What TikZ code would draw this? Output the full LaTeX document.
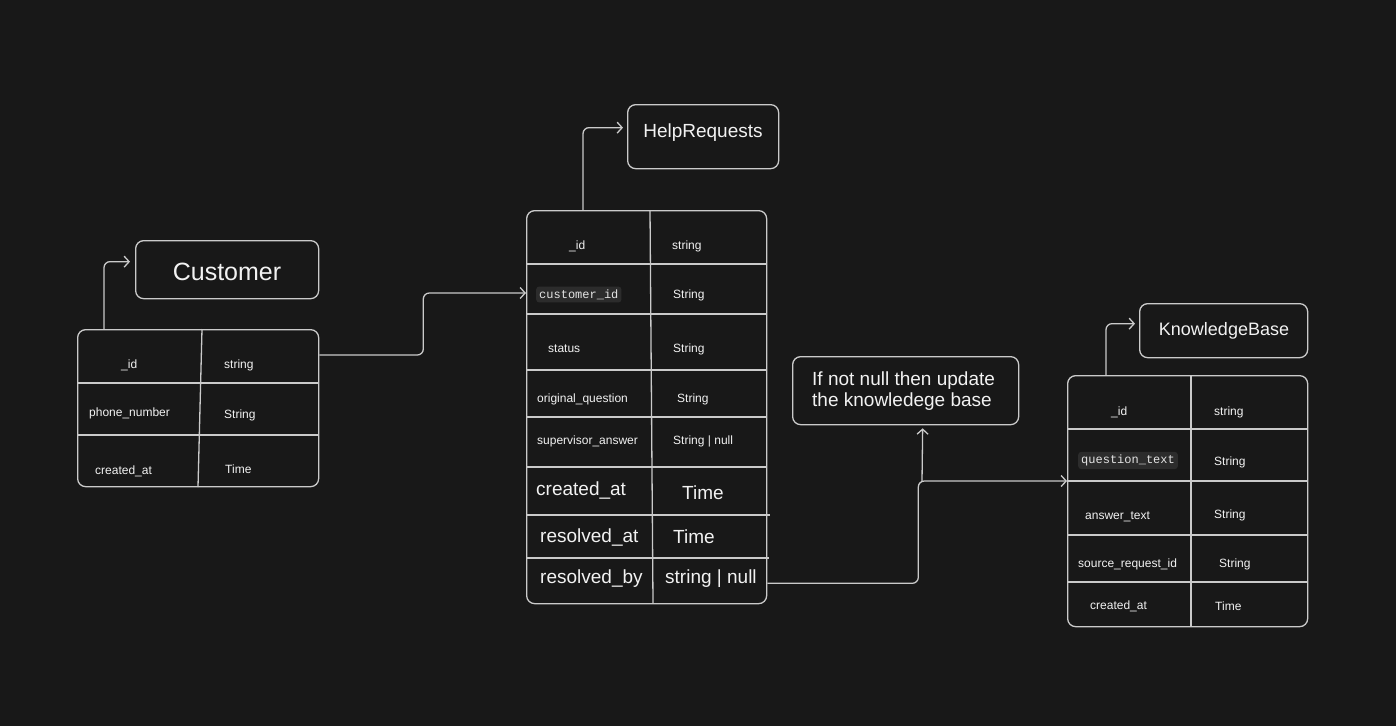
\documentclass[tikz,border=0pt]{standalone}
\usepackage{fontspec}
\setmainfont{Liberation Sans}
\setmonofont{Liberation Mono}
\usetikzlibrary{arrows.meta}
\definecolor{bg}{HTML}{181818}
\definecolor{ln}{HTML}{CACACA}
\definecolor{tx}{HTML}{F2F2F2}
\definecolor{codebg}{HTML}{2C2C2C}
\definecolor{codetx}{HTML}{E4E4E4}
\tikzset{
  box/.style={draw=ln, line width=1.3pt, rounded corners=8pt, inner sep=0pt, anchor=north west},
  rowline/.style={draw=ln, line width=1.3pt},
  small/.style={text=tx, font=\fontsize{12}{14}\selectfont, inner sep=0pt, anchor=west},
  big/.style={text=tx, font=\fontsize{19}{22}\selectfont, inner sep=0pt, anchor=west},
  titletext/.style={text=tx, font=\fontsize{19}{22}\selectfont},
  code/.style={text=codetx, fill=codebg, rounded corners=3pt, font=\ttfamily\fontsize{12}{14}\selectfont, inner xsep=3pt, inner ysep=3pt, anchor=west},
  conn/.style={draw=ln, line width=1.3pt, rounded corners=6pt, -{Straight Barb[length=5pt,width=11pt,line width=1.3pt]}},
}
\begin{document}
\begin{tikzpicture}[x=1pt,y=-1pt]
\fill[bg] (0,0) rectangle (1396,726);
\useasboundingbox (0,0) rectangle (1396,726);

% ---------- Customer ----------
\node[box, minimum width=183pt, minimum height=58pt] (custT) at (135,240) {};
\node[text=tx, font=\fontsize{25}{28}\selectfont] (custTl) at (227,272) {Customer};
\node[box, minimum width=241pt, minimum height=157pt] (cust) at (77,329) {};
\draw[rowline] (77,383) -- (318,383);
\draw[rowline] (77,435) -- (318,435);
\draw[rowline] (202,329) -- (198,487);
\node[small] (c1a) at (121,365) {\_id};
\node[small] (c1b) at (224,365) {string};
\node[small] (c2a) at (89,413) {phone\_number};
\node[small] (c2b) at (224,415) {String};
\node[small] (c3a) at (95,471) {created\_at};
\node[small] (c3b) at (225,469) {Time};

% ---------- HelpRequests ----------
\node[box, minimum width=151pt, minimum height=64pt] (hrT) at (627,104) {};
\node[titletext] (hrTl) at (703,133) {HelpRequests};
\node[box, minimum width=240pt, minimum height=393pt] (hr) at (526,210) {};
\draw[rowline] (526,264) -- (766,264);
\draw[rowline] (526,314) -- (766,314);
\draw[rowline] (526,370) -- (766,370);
\draw[rowline] (526,417) -- (766,417);
\draw[rowline] (526,467) -- (766,467);
\draw[rowline] (526,515) -- (770,515);
\draw[rowline] (526,558) -- (769,558);
\draw[rowline] (650,210) -- (653,603);
\node[small] (h1a) at (569,246) {\_id};
\node[small] (h1b) at (672,246) {string};
\node[code] (h2a) at (536,294.5) {customer\_id};
\node[small] (h2b) at (673,295) {String};
\node[small] (h3a) at (548,349) {status};
\node[small] (h3b) at (673,349) {String};
\node[small] (h4a) at (537,399) {original\_question};
\node[small] (h4b) at (677,399) {String};
\node[small] (h5a) at (537,441) {supervisor\_answer};
\node[small] (h5b) at (673,441) {String | null};
\node[big] (h6a) at (536,490) {created\_at};
\node[big] (h6b) at (682,493) {Time};
\node[big] (h7a) at (540,537) {resolved\_at};
\node[big] (h7b) at (673,537) {Time};
\node[big] (h8a) at (540,579) {resolved\_by};
\node[big] (h8b) at (665,579) {string | null};

% ---------- Note ----------
\node[box, minimum width=226pt, minimum height=68pt] (note) at (792,356) {};
\node[text=tx, font=\fontsize{19}{21}\selectfont, align=left, inner sep=0pt, anchor=west] (notel) at (812,391.5) {If not null then update\\the knowledege base};

% ---------- KnowledgeBase ----------
\node[box, minimum width=168pt, minimum height=54pt] (kbT) at (1139,303) {};
\node[titletext, font=\fontsize{18}{21}\selectfont] (kbTl) at (1224,331) {KnowledgeBase};
\node[box, minimum width=240pt, minimum height=251pt] (kb) at (1067,375) {};
\draw[rowline] (1067,429) -- (1307,429);
\draw[rowline] (1067,481) -- (1307,481);
\draw[rowline] (1067,535) -- (1307,535);
\draw[rowline] (1067,582) -- (1307,582);
\draw[rowline] (1191,375) -- (1191,626);
\node[small] (k1a) at (1111,412) {\_id};
\node[small] (k1b) at (1214,412) {string};
\node[code] (k2a) at (1078,460.5) {question\_text};
\node[small] (k2b) at (1214,462) {String};
\node[small] (k3a) at (1085,517) {answer\_text};
\node[small] (k3b) at (1214,515) {String};
\node[small] (k4a) at (1078,564) {source\_request\_id};
\node[small] (k4b) at (1219,564) {String};
\node[small] (k5a) at (1090,606) {created\_at};
\node[small] (k5b) at (1215,606) {Time};

% ---------- Connectors ----------
\draw[conn] ([xshift=27pt]cust.north west) |- ([xshift=-5pt,yshift=8pt]custT.west);
\draw[conn] ([xshift=57pt]hr.north west) |- ([xshift=-4pt,yshift=9pt]hrT.west);
\draw[conn] ([xshift=39pt]kb.north west) |- ([xshift=-4pt,yshift=7pt]kbT.west);
\draw[conn] ([yshift=-26pt]cust.north east) -- ++(104,0) |- ([yshift=-83pt]hr.north west);
\draw[conn] ([yshift=21pt]hr.south east) -- ++(151,0) |- ([yshift=-106pt]kb.north west);
\coordinate (j) at (922,481);
\draw[conn] (j) -- ([xshift=17pt,yshift=-3pt]note.south);
\end{tikzpicture}
\end{document}
